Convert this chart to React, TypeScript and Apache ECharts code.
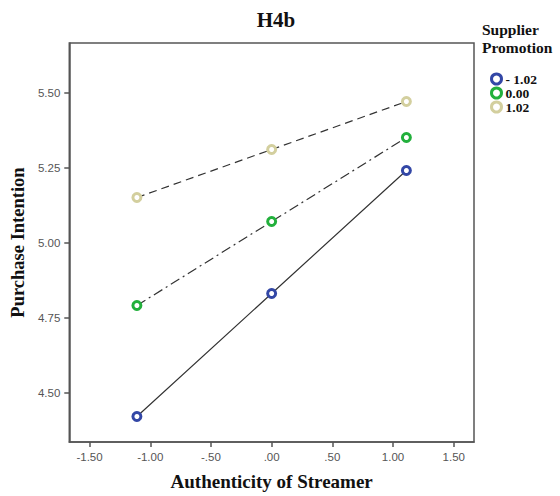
import React, { useEffect, useRef } from "react";
import * as echarts from "echarts";

const xPoints = [-1.11, 0, 1.11];
const seriesNames = ["- 1.02", "0.00", "1.02"];
const lowValues = [4.42, 4.83, 5.24];
const midValues = [4.79, 5.07, 5.35];
const highValues = [5.15, 5.31, 5.47];
const xTicks = [-1.5, -1.0, -0.5, 0, 0.5, 1.0, 1.5];
const yTicks = [4.5, 4.75, 5.0, 5.25, 5.5];

const colors = ["#3347a6", "#22b03c", "#d3cf9e"];
const lineTypes: any[] = ["solid", [10, 4, 2, 4], [8, 5]];

const fmt = (v: number) => {
  const s = Math.abs(v).toFixed(2).replace(/^0/, "");
  return (v < 0 ? "-" : "") + s;
};

const SERIF = "'Liberation Serif', 'Times New Roman', serif";
const SANS = "'Liberation Sans', Arial, sans-serif";

export default function App() {
  const ref = useRef<HTMLDivElement>(null);
  useEffect(() => {
    if (!ref.current) return;
    const chart = echarts.init(ref.current, undefined, { renderer: "svg" });
    const allValues = [lowValues, midValues, highValues];
    chart.setOption({
      animation: false,
      backgroundColor: "#ffffff",
      title: [
        {
          text: "H4b",
          left: 271,
          top: 4,
          textAlign: "center",
          textStyle: { fontFamily: SERIF, fontWeight: "bold", fontSize: 21, color: "#111" },
        },
        {
          text: "Supplier\nPromotion",
          left: 477,
          top: 15,
          textStyle: { fontFamily: SERIF, fontWeight: "bold", fontSize: 15.5, lineHeight: 18, color: "#111" },
        },
      ],
      legend: {
        orient: "vertical",
        left: 485,
        top: 67,
        itemGap: 0,
        itemWidth: 10,
        itemHeight: 10,
        textStyle: { fontFamily: SERIF, fontWeight: "bold", fontSize: 13.5, color: "#111", padding: [0, 0, 0, -1] },
        data: seriesNames.map((n, i) => ({
          name: n,
          icon: "circle",
          itemStyle: { color: "#ffffff", borderColor: colors[i], borderWidth: 3 },
        })),
      },
      grid: { left: 67, right: 86, top: 43, bottom: 50, show: true, borderColor: "#555", borderWidth: 1.5, backgroundColor: "#fff" },
      xAxis: {
        type: "value",
        min: -1.667,
        max: 1.667,
        name: "Authenticity of Streamer",
        nameLocation: "middle",
        nameGap: 30,
        nameTextStyle: { fontFamily: SERIF, fontWeight: "bold", fontSize: 19, color: "#111" },
        axisLine: { show: true, onZero: false, lineStyle: { color: "#555", width: 1.5 } },
        axisTick: { show: true, length: 5, customValues: xTicks, lineStyle: { color: "#555", width: 1.5 } },
        axisLabel: { customValues: xTicks, formatter: (v: number) => fmt(v), fontFamily: SANS, fontSize: 11.5, color: "#555", margin: 9 },
        splitLine: { show: false },
      },
      yAxis: {
        type: "value",
        min: 4.335,
        max: 5.665,
        name: "Purchase Intention",
        nameLocation: "middle",
        nameGap: 41,
        nameTextStyle: { fontFamily: SERIF, fontWeight: "bold", fontSize: 18.5, color: "#111" },
        axisLine: { show: true, onZero: false, lineStyle: { color: "#555", width: 1.5 } },
        axisTick: { show: true, length: 5, customValues: yTicks, lineStyle: { color: "#555", width: 1.5 } },
        axisLabel: { customValues: yTicks, formatter: (v: number) => v.toFixed(2), fontFamily: SANS, fontSize: 11.5, color: "#555", margin: 9 },
        splitLine: { show: false },
      },
      series: seriesNames.map((n, i) => ({
        name: n,
        type: "line",
        data: xPoints.map((x, j) => [x, allValues[i][j]]),
        symbol: "circle",
        symbolSize: 8,
        itemStyle: { color: "#ffffff", borderColor: colors[i], borderWidth: 3 },
        lineStyle: { color: "#333", width: 1.2, type: lineTypes[i] },
        z: 3 + i,
      })),
    });
    return () => chart.dispose();
  }, []);
  return <div ref={ref} style={{ position: "absolute", left: 0, top: 0, width: 560, height: 496 }} />;
}
